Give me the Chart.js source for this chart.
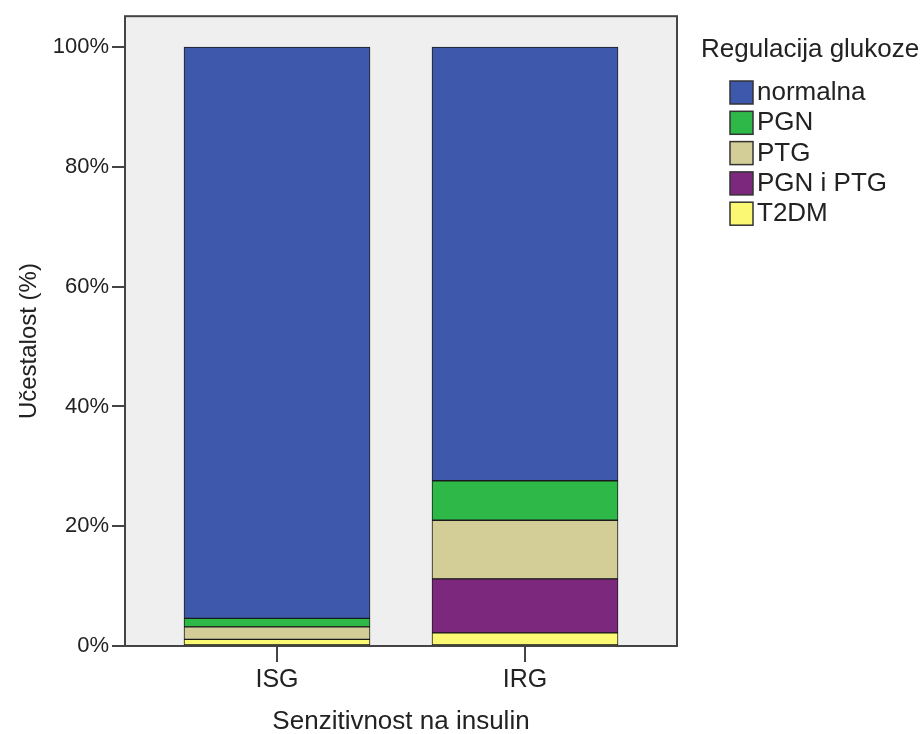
<!DOCTYPE html>
<html>
<head>
<meta charset="utf-8">
<script src="https://cdn.jsdelivr.net/npm/chart.js@4.4.0/dist/chart.umd.min.js"></script>
<style>
    html, body { margin: 0; padding: 0; background: #fff; }
    #wrap { width: 923px; height: 734px; }
</style>
</head>
<body>
<div id="wrap"><canvas id="chart" width="923" height="734"></canvas></div>
<script>
// data (percent of each group)
const categories = ['ISG', 'IRG'];
const categoryPos = [1, 2];
const normalna = [95.4, 72.4];
const pgn = [1.4, 6.6];
const ptg = [2.1, 9.8];
const pgnPtg = [0, 9.0];
const t2dm = [1.1, 2.2];
const yTicks = [0, 20, 40, 60, 80, 100];

const legendTitle = 'Regulacija glukoze';
const fontFamily = '"Liberation Sans", Arial, sans-serif';
const textColor = '#222';

function points(values) {
    return categoryPos.map(function(x, i) { return { x: x, y: values[i] }; });
}

// stacked bottom-up
const datasets = [
    { label: 'T2DM', data: points(t2dm), backgroundColor: '#FBF873' },
    { label: 'PGN i PTG', data: points(pgnPtg), backgroundColor: '#7C287D' },
    { label: 'PTG', data: points(ptg), backgroundColor: '#D3CE97' },
    { label: 'PGN', data: points(pgn), backgroundColor: '#2EB848' },
    { label: 'normalna', data: points(normalna), backgroundColor: '#3E58AC' }
].map(function(ds) {
    ds.borderColor = '#1a1a1a';
    ds.borderWidth = 1;
    ds.borderSkipped = false;
    ds.barThickness = 186;
    return ds;
});

const plotFrame = {
    id: 'plotFrame',
    beforeDatasetsDraw: function(chart) {
        const a = chart.chartArea;
        const ctx = chart.ctx;
        ctx.save();
        ctx.fillStyle = '#efefef';
        ctx.fillRect(a.left, a.top, a.right - a.left, a.bottom - a.top);
        ctx.strokeStyle = '#444';
        ctx.lineWidth = 2;
        ctx.strokeRect(a.left, a.top, a.right - a.left, a.bottom - a.top);
        ctx.restore();
    },
    afterDraw: function(chart) {
        // legend with indented swatches, like the original
        const ctx = chart.ctx;
        const x0 = chart.chartArea.right + 24;
        ctx.save();
        ctx.fillStyle = textColor;
        ctx.font = '26px ' + fontFamily;
        ctx.textBaseline = 'middle';
        ctx.textAlign = 'left';
        ctx.fillText(legendTitle, x0, 50);
        const items = chart.data.datasets.slice().reverse();
        items.forEach(function(ds, i) {
            const cy = 92 + i * 30.3;
            ctx.fillStyle = ds.backgroundColor;
            ctx.fillRect(x0 + 29, cy - 11, 23, 23);
            ctx.strokeStyle = '#333';
            ctx.lineWidth = 1.5;
            ctx.strokeRect(x0 + 29, cy - 11, 23, 23);
            ctx.fillStyle = textColor;
            ctx.font = '26px ' + fontFamily;
            ctx.fillText(ds.label, x0 + 56, cy + 1);
        });
        ctx.restore();
    }
};

const ctx = document.getElementById('chart').getContext('2d');
const chart = new Chart(ctx, {
    type: 'bar',
    data: { datasets: datasets },
    options: {
        responsive: false,
        animation: false,
        layout: { padding: { top: 15, right: 246, left: 0, bottom: 0 } },
        scales: {
            x: {
                type: 'linear',
                stacked: true,
                offset: false,
                min: 0.3871,
                max: 2.6129,
                afterBuildTicks: function(scale) {
                    scale.ticks = categoryPos.map(function(v) { return { value: v }; });
                },
                afterFit: function(scale) { scale.height = 88; },
                grid: { drawOnChartArea: false, offset: false, tickLength: 16, color: '#444', lineWidth: 2 },
                border: { display: false },
                ticks: {
                    color: textColor,
                    font: { family: fontFamily, size: 25 },
                    padding: 3,
                    maxRotation: 0,
                    callback: function(value) {
                        return categories[categoryPos.indexOf(value)];
                    }
                },
                title: {
                    display: true,
                    text: 'Senzitivnost na insulin',
                    color: textColor,
                    font: { family: fontFamily, size: 26 },
                    padding: { top: 14, bottom: -3 }
                }
            },
            y: {
                stacked: true,
                min: 0,
                max: 105.17,
                afterBuildTicks: function(scale) {
                    scale.ticks = yTicks.map(function(v) { return { value: v }; });
                },
                afterFit: function(scale) { scale.width = 125; },
                grid: { drawOnChartArea: false, tickLength: 13, color: '#444', lineWidth: 2 },
                border: { display: false },
                ticks: {
                    color: textColor,
                    font: { family: fontFamily, size: 22 },
                    padding: 3,
                    callback: function(value) { return value + '%'; }
                },
                title: {
                    display: true,
                    // trailing spaces push the title down to the 0-100 centre
                    text: 'Učestalost (%)   ',
                    color: textColor,
                    font: { family: fontFamily, size: 24 },
                    padding: { top: 15, bottom: 0 }
                }
            }
        },
        plugins: {
            legend: { display: false },
            tooltip: { enabled: false }
        }
    },
    plugins: [plotFrame]
});
</script>
</body>
</html>
